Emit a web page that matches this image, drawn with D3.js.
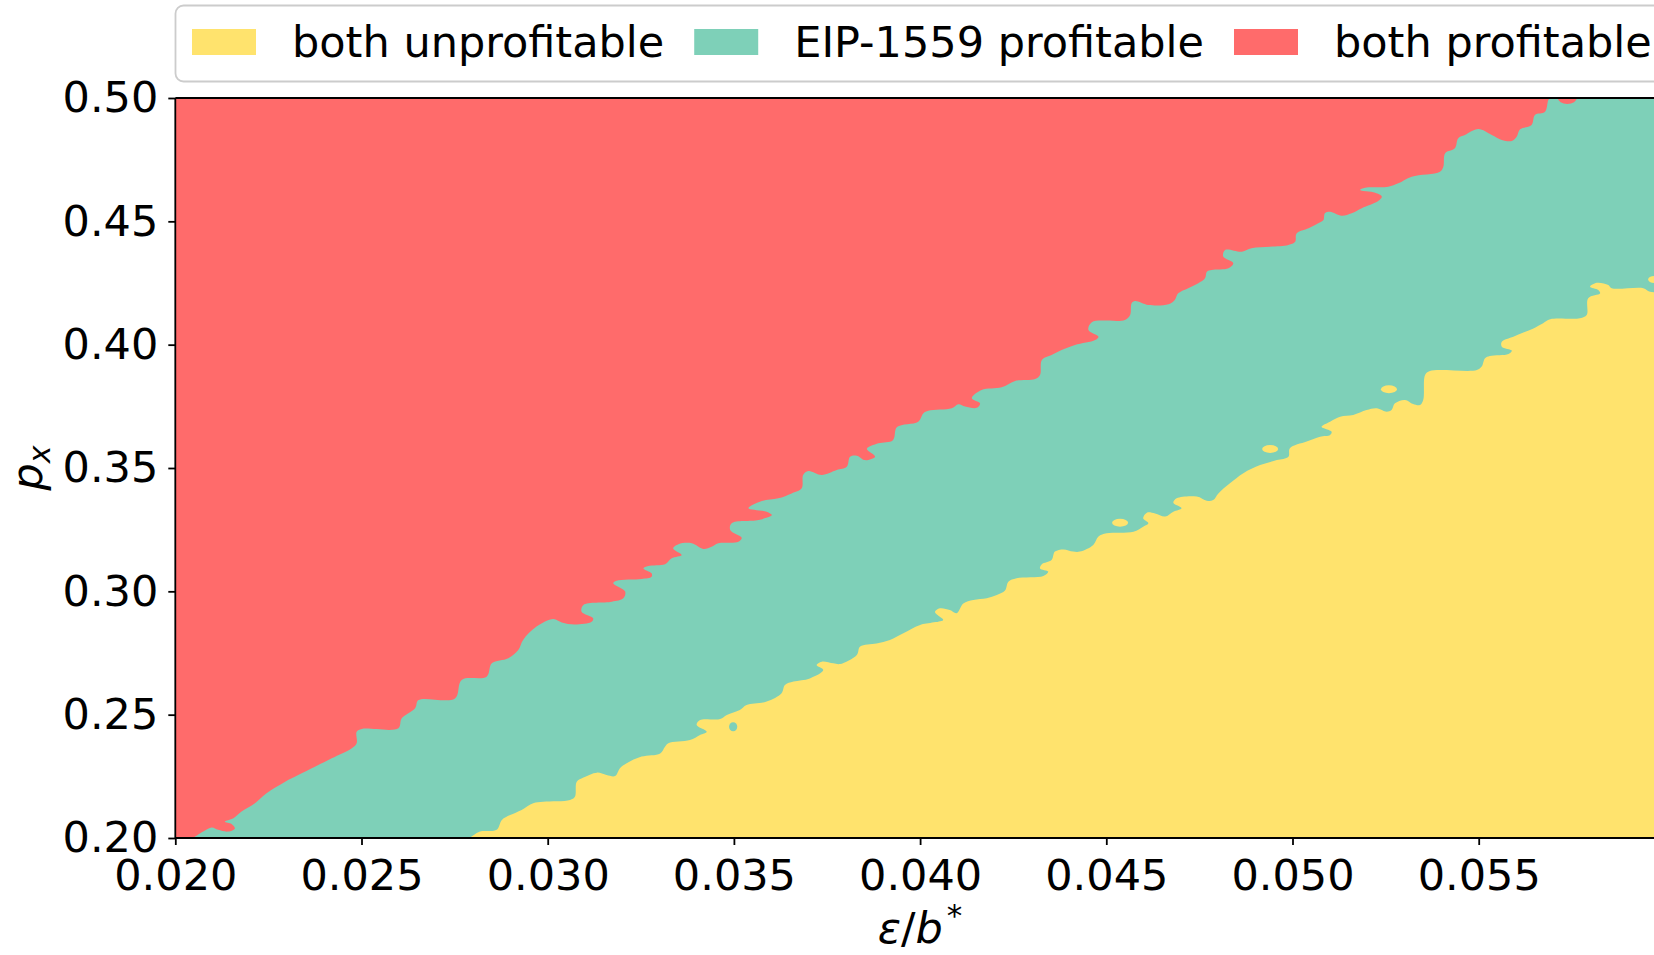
<!DOCTYPE html>
<html><head><meta charset="utf-8">
<script src="https://cdn.jsdelivr.net/npm/d3@7"></script>
<style>body{margin:0;background:#fff}svg{display:block}text{font-family:"DejaVu Sans",sans-serif}</style>
</head><body><svg id="chart" width="1654" height="955"></svg>
<script>
// ---------------- data ----------------
const xTicks = [0.020, 0.025, 0.030, 0.035, 0.040, 0.045, 0.050, 0.055];
const yTicks = [0.20, 0.25, 0.30, 0.35, 0.40, 0.45, 0.50];
const categories = ["both unprofitable", "EIP-1559 profitable", "both profitable"];
const colors = ["#FFE36D", "#7ED0B8", "#FF6B6B"];
// boundary between "both profitable" (above) and "EIP-1559 profitable" (below): [eps/b*, p_x]
const upperBoundary = [[0.02048,0.2000],[0.02075,0.2026],[0.02098,0.2043],[0.02115,0.2033],[0.02142,0.2026],[0.02160,0.2039],[0.02151,0.2057],[0.02133,0.2066],[0.02156,0.2080],[0.02178,0.2107],[0.02214,0.2141],[0.02245,0.2181],[0.02295,0.2228],[0.02330,0.2255],[0.02375,0.2289],[0.02420,0.2323],[0.02474,0.2364],[0.02487,0.2384],[0.02487,0.2431],[0.02501,0.2442],[0.02599,0.2445],[0.02608,0.2485],[0.02644,0.2526],[0.02653,0.2559],[0.02751,0.2566],[0.02769,0.2641],[0.02836,0.2654],[0.02850,0.2708],[0.02894,0.2729],[0.02921,0.2762],[0.02934,0.2803],[0.02970,0.2857],[0.03015,0.2888],[0.03038,0.2874],[0.03073,0.2866],[0.03118,0.2877],[0.03122,0.2891],[0.03091,0.2917],[0.03096,0.2945],[0.03172,0.2958],[0.03203,0.2972],[0.03208,0.2999],[0.03176,0.3033],[0.03185,0.3043],[0.03252,0.3050],[0.03279,0.3059],[0.03279,0.3073],[0.03257,0.3093],[0.03270,0.3103],[0.03315,0.3110],[0.03333,0.3134],[0.03360,0.3147],[0.03337,0.3174],[0.03351,0.3191],[0.03387,0.3195],[0.03418,0.3172],[0.03440,0.3181],[0.03458,0.3195],[0.03512,0.3201],[0.03521,0.3217],[0.03490,0.3249],[0.03494,0.3276],[0.03566,0.3289],[0.03602,0.3309],[0.03588,0.3323],[0.03539,0.3337],[0.03575,0.3366],[0.03619,0.3377],[0.03655,0.3397],[0.03682,0.3418],[0.03686,0.3472],[0.03700,0.3488],[0.03736,0.3472],[0.03776,0.3492],[0.03803,0.3505],[0.03812,0.3546],[0.03830,0.3550],[0.03852,0.3532],[0.03879,0.3546],[0.03857,0.3577],[0.03888,0.3600],[0.03927,0.3613],[0.03938,0.3666],[0.03995,0.3688],[0.04009,0.3722],[0.04022,0.3732],[0.04085,0.3742],[0.04103,0.3758],[0.04121,0.3749],[0.04152,0.3744],[0.04161,0.3762],[0.04139,0.3783],[0.04165,0.3816],[0.04219,0.3827],[0.04255,0.3853],[0.04309,0.3861],[0.04322,0.3877],[0.04327,0.3938],[0.04353,0.3958],[0.04380,0.3978],[0.04416,0.3999],[0.04470,0.4019],[0.04479,0.4032],[0.04452,0.4059],[0.04461,0.4091],[0.04550,0.4100],[0.04564,0.4120],[0.04568,0.4168],[0.04577,0.4177],[0.04613,0.4161],[0.04667,0.4164],[0.04684,0.4181],[0.04693,0.4208],[0.04720,0.4229],[0.04747,0.4249],[0.04765,0.4269],[0.04770,0.4296],[0.04783,0.4303],[0.04828,0.4310],[0.04841,0.4330],[0.04814,0.4357],[0.04819,0.4384],[0.04864,0.4377],[0.04890,0.4391],[0.04940,0.4397],[0.04989,0.4404],[0.05007,0.4417],[0.05011,0.4451],[0.05043,0.4472],[0.05069,0.4492],[0.05083,0.4505],[0.05087,0.4533],[0.05101,0.4539],[0.05132,0.4523],[0.05159,0.4533],[0.05186,0.4553],[0.05230,0.4582],[0.05240,0.4600],[0.05222,0.4616],[0.05181,0.4627],[0.05195,0.4636],[0.05257,0.4640],[0.05284,0.4654],[0.05320,0.4681],[0.05396,0.4701],[0.05405,0.4721],[0.05410,0.4776],[0.05436,0.4796],[0.05445,0.4837],[0.05463,0.4850],[0.05499,0.4874],[0.05535,0.4850],[0.05562,0.4830],[0.05589,0.4826],[0.05602,0.4843],[0.05611,0.4873],[0.05642,0.4891],[0.05651,0.4931],[0.05678,0.4944],[0.05687,0.4992],[0.05692,0.5000]];
// boundary between "EIP-1559 profitable" (above) and "both unprofitable" (below)
const lowerBoundary = [[0.02791,0.2000],[0.02818,0.2026],[0.02863,0.2033],[0.02877,0.2073],[0.02899,0.2093],[0.02930,0.2114],[0.02961,0.2141],[0.02988,0.2147],[0.03060,0.2154],[0.03073,0.2167],[0.03078,0.2228],[0.03096,0.2245],[0.03132,0.2265],[0.03158,0.2255],[0.03181,0.2251],[0.03194,0.2283],[0.03212,0.2303],[0.03252,0.2330],[0.03302,0.2343],[0.03315,0.2370],[0.03324,0.2384],[0.03382,0.2397],[0.03409,0.2418],[0.03427,0.2431],[0.03400,0.2458],[0.03409,0.2478],[0.03463,0.2482],[0.03481,0.2499],[0.03516,0.2519],[0.03534,0.2539],[0.03588,0.2553],[0.03628,0.2587],[0.03637,0.2620],[0.03660,0.2634],[0.03704,0.2647],[0.03740,0.2681],[0.03722,0.2701],[0.03736,0.2715],[0.03767,0.2708],[0.03785,0.2705],[0.03830,0.2742],[0.03839,0.2776],[0.03883,0.2789],[0.03919,0.2803],[0.03955,0.2830],[0.04000,0.2864],[0.04062,0.2884],[0.04053,0.2897],[0.04040,0.2917],[0.04053,0.2931],[0.04080,0.2924],[0.04098,0.2911],[0.04116,0.2951],[0.04143,0.2965],[0.04179,0.2972],[0.04206,0.2985],[0.04228,0.3003],[0.04237,0.3039],[0.04259,0.3053],[0.04331,0.3062],[0.04344,0.3080],[0.04322,0.3093],[0.04327,0.3110],[0.04353,0.3127],[0.04362,0.3161],[0.04385,0.3170],[0.04411,0.3161],[0.04429,0.3161],[0.04465,0.3188],[0.04479,0.3222],[0.04501,0.3235],[0.04573,0.3242],[0.04599,0.3262],[0.04613,0.3276],[0.04599,0.3296],[0.04609,0.3319],[0.04631,0.3316],[0.04658,0.3303],[0.04680,0.3323],[0.04702,0.3337],[0.04680,0.3359],[0.04689,0.3377],[0.04743,0.3384],[0.04770,0.3367],[0.04787,0.3370],[0.04801,0.3397],[0.04832,0.3438],[0.04868,0.3479],[0.04913,0.3512],[0.04958,0.3532],[0.04989,0.3546],[0.04993,0.3580],[0.05038,0.3607],[0.05074,0.3627],[0.05101,0.3634],[0.05105,0.3647],[0.05078,0.3667],[0.05101,0.3688],[0.05128,0.3708],[0.05163,0.3715],[0.05199,0.3735],[0.05226,0.3742],[0.05253,0.3728],[0.05266,0.3735],[0.05275,0.3762],[0.05302,0.3776],[0.05324,0.3759],[0.05342,0.3755],[0.05351,0.3776],[0.05356,0.3877],[0.05369,0.3893],[0.05495,0.3897],[0.05508,0.3911],[0.05517,0.3945],[0.05530,0.3954],[0.05580,0.3962],[0.05589,0.3976],[0.05562,0.3992],[0.05562,0.4012],[0.05593,0.4032],[0.05620,0.4049],[0.05647,0.4066],[0.05673,0.4087],[0.05692,0.4103],[0.05772,0.4107],[0.05790,0.4120],[0.05794,0.4188],[0.05826,0.4208],[0.05821,0.4222],[0.05799,0.4235],[0.05817,0.4251],[0.05848,0.4242],[0.05857,0.4229],[0.05942,0.4229],[0.05960,0.4215],[0.06050,0.4215]];
// small isolated patches: [eps, p, half-width eps, half-height p, class index]
const islands = [[0.03498,0.2451,0.000110,0.0018,1],[0.04537,0.3278,0.000215,0.0016,0],[0.04940,0.3577,0.000215,0.0016,0],[0.05259,0.3819,0.000215,0.0016,0],[0.05971,0.4264,0.000160,0.0014,0],[0.05738,0.5000,0.000255,0.0024,2]];

// ---------------- drawing ----------------
const svg = d3.select("#chart");
const x = d3.scaleLinear().domain([0.02, 0.06]).range([175.3, 1664.9]);
const y = d3.scaleLinear().domain([0.2, 0.5]).range([838, 98]);
const FS = 43;

svg.append("defs").append("clipPath").attr("id", "plotclip")
  .append("rect").attr("x", x(0.02)).attr("y", y(0.5)).attr("width", x(0.06) - x(0.02)).attr("height", y(0.2) - y(0.5));

const plot = svg.append("g").attr("clip-path", "url(#plotclip)");
const line = d3.line().x(d => x(d[0])).y(d => y(d[1])).curve(d3.curveCatmullRom.alpha(0.5));

// middle class as background
plot.append("rect").attr("x", x(0.02)).attr("y", y(0.5)).attr("width", x(0.06) - x(0.02)).attr("height", y(0.2) - y(0.5)).attr("fill", colors[1]);

// both profitable (upper-left)
const u0 = upperBoundary[0], uN = upperBoundary[upperBoundary.length - 1];
const redD = `M${x(0.019)},${y(0.51)}L${x(0.019)},${y(0.19)}L${x(u0[0])},${y(0.19)}` +
  line(upperBoundary).replace(/^M/, "L") + `L${x(uN[0])},${y(0.51)}Z`;
plot.append("path").attr("d", redD).attr("fill", colors[2]);

// both unprofitable (lower-right)
const l0 = lowerBoundary[0], lN = lowerBoundary[lowerBoundary.length - 1];
const yelD = line(lowerBoundary) + `L${x(lN[0])},${y(0.19)}L${x(l0[0])},${y(0.19)}Z`;
plot.append("path").attr("d", yelD).attr("fill", colors[0]);

plot.selectAll("ellipse.isl").data(islands).join("ellipse")
  .attr("cx", d => x(d[0])).attr("cy", d => y(d[1]))
  .attr("rx", d => x(d[0] + d[2]) - x(d[0])).attr("ry", d => y(d[1]) - y(d[1] + d[3]))
  .attr("fill", d => colors[d[4]]);

// spines
const sp = svg.append("g").attr("stroke", "#000").attr("stroke-width", 1.8);
sp.append("line").attr("x1", x(0.02)).attr("x2", x(0.02)).attr("y1", y(0.5)).attr("y2", y(0.2));
sp.append("line").attr("x1", x(0.02)).attr("x2", x(0.06)).attr("y1", y(0.2)).attr("y2", y(0.2));
sp.append("line").attr("x1", x(0.02)).attr("x2", x(0.06)).attr("y1", y(0.5)).attr("y2", y(0.5));

// axes
const gx = svg.append("g").attr("transform", `translate(0,${y(0.2)})`)
  .call(d3.axisBottom(x).tickValues(xTicks).tickFormat(d3.format(".3f")).tickSize(7).tickPadding(14));
const gy = svg.append("g").attr("transform", `translate(${x(0.02)},0)`)
  .call(d3.axisLeft(y).tickValues(yTicks).tickFormat(d3.format(".2f")).tickSize(7).tickPadding(10));
[gx, gy].forEach(g => {
  g.select(".domain").remove();
  g.selectAll(".tick line").attr("stroke", "#000").attr("stroke-width", 1.8);
  g.selectAll(".tick text").attr("fill", "#000").style("font-size", FS + "px").style("font-family", "DejaVu Sans");
});

// axis labels
const yl = svg.append("text").attr("transform", `translate(42,${(y(0.2) + y(0.5)) / 2}) rotate(-90)`)
  .attr("text-anchor", "middle").style("font-size", FS + "px").attr("fill", "#000");
yl.append("tspan").attr("font-style", "italic").text("p");
yl.append("tspan").attr("font-style", "italic").attr("dy", 8).style("font-size", "30px").text("x");

const xl = svg.append("text").attr("x", (x(0.02) + x(0.06)) / 2).attr("y", 943)
  .attr("text-anchor", "middle").style("font-size", FS + "px").attr("fill", "#000");
xl.append("tspan").attr("font-style", "italic").text("ε");
xl.append("tspan").text("/");
xl.append("tspan").attr("font-style", "italic").text("b");
xl.append("tspan").attr("dy", -17).attr("dx", 4).style("font-size", "31px").text("*");

// legend
const lg = svg.append("g");
lg.append("rect").attr("x", 175.5).attr("y", 5.5).attr("width", 1700).attr("height", 76).attr("rx", 8)
  .attr("fill", "#fff").attr("stroke", "#cccccc").attr("stroke-width", 1.8);
let lx = 192;
categories.forEach((c, i) => {
  lg.append("rect").attr("x", lx).attr("y", 29).attr("width", 64).attr("height", 26).attr("fill", colors[i]);
  const t = lg.append("text").attr("x", lx + 64 + 36).attr("y", 57).style("font-size", FS + "px").attr("fill", "#000").text(c);
  lx = lx + 64 + 36 + t.node().getComputedTextLength() + 30;
});
</script></body></html>
